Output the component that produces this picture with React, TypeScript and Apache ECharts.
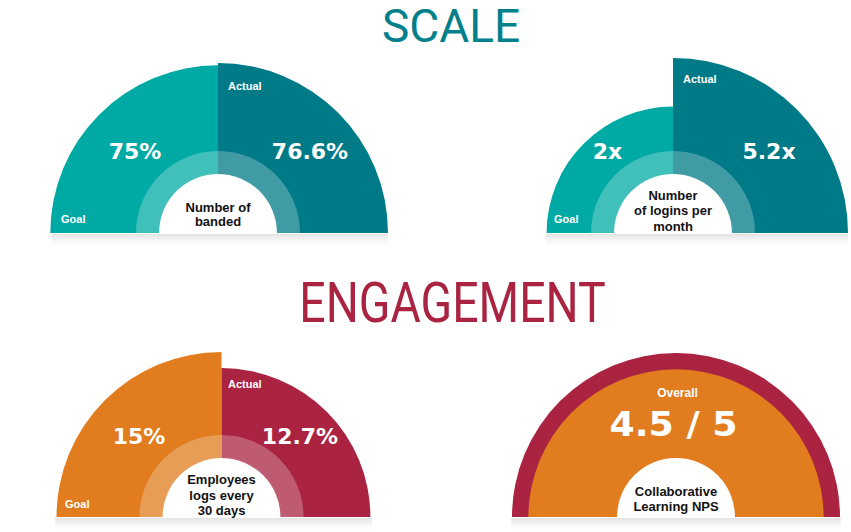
import React, { useEffect, useRef } from "react";
import * as echarts from "echarts";

// ---------- data ----------
const sectionTitles = ["SCALE", "ENGAGEMENT"];
const scaleMetrics = ["Number of\nbanded", "Number\nof logins per\nmonth"];
const scaleGoalValues = [75, 2];
const scaleActualValues = [76.6, 5.2];
const scaleGoalLabels = ["75%", "2x"];
const scaleActualLabels = ["76.6%", "5.2x"];
const engagementMetrics = ["Employees\nlogs every\n30 days"];
const engagementGoalValues = [15];
const engagementActualValues = [12.7];
const engagementGoalLabels = ["15%"];
const engagementActualLabels = ["12.7%"];
const npsMetric = ["Collaborative\nLearning NPS"];
const npsValues = [4.5];
const npsMax = [5];
const npsLabels = ["4.5 / 5"];
const npsCaption = ["Overall"];
const gaugeCategories = ["Goal", "Actual", "", ""];

// ---------- styles ----------
const TEAL_GOAL = "#00AAA4";
const TEAL_ACTUAL = "#007A87";
const TEAL_TITLE = "#00808B";
const ORANGE = "#E17C1F";
const CRIMSON = "#AA2442";
const SMALL_FONT = "'Liberation Sans', Arial, sans-serif";
const VALUE_FONT = "'DejaVu Sans', Verdana, sans-serif";
const TITLE_FONT = "Roboto, 'Liberation Sans', sans-serif";

type GaugeLayout = {
  cx: number; cy: number; r0: number; R: number;
  goalColor: string; actualColor: string;
  actualLabelPos: [number, number]; goalLabelPos: [number, number];
  goalValuePos: [number, number]; actualValuePos: [number, number];
  centerTextY: number; centerLineHeight: number; shadow: [number, number];
};

const HOLE_R = 59;
const RING_R = 82;

const hiddenAxis = {
  axisLine: { show: false }, axisTick: { show: false }, axisLabel: { show: false },
  splitLine: { show: false }, splitArea: { show: false },
};

function pieCommon(cx: number, cy: number) {
  return {
    type: "pie",
    center: [cx, cy],
    silent: true,
    label: { show: false },
    labelLine: { show: false },
    clockwise: true,
    animation: false,
  };
}

function gaugeSeries(L: GaugeLayout, idx: number, goal: number, actual: number) {
  const common = pieCommon(L.cx, L.cy);
  return [
    {
      ...common, z: 1, radius: [0, L.r0 + 0.5], startAngle: 180, endAngle: 90,
      itemStyle: { borderWidth: 0 },
      data: [{ value: goal, itemStyle: { color: L.goalColor } }],
    },
    {
      ...common, z: 1, radius: [0, L.r0 + 0.5], startAngle: 90, endAngle: 0,
      itemStyle: { borderWidth: 0 },
      data: [{ value: actual, itemStyle: { color: L.actualColor } }],
    },
    {
      type: "bar", coordinateSystem: "polar", polarIndex: idx, z: 2, silent: true,
      barCategoryGap: "0%",
      itemStyle: { borderWidth: 0 },
      data: [
        { value: goal, itemStyle: { color: L.goalColor } },
        { value: actual, itemStyle: { color: L.actualColor } },
        null,
        null,
      ],
    },
    {
      ...common, z: 3, radius: [HOLE_R, RING_R], startAngle: 180, endAngle: 0,
      itemStyle: { borderWidth: 0, color: "rgba(255,255,255,0.25)" },
      data: [{ value: 1 }],
    },
    {
      ...common, z: 4, radius: [0, HOLE_R], startAngle: 180, endAngle: 0,
      itemStyle: { borderWidth: 0, color: "#ffffff" },
      data: [{ value: 1 }],
    },
  ];
}

function text(x: number, y: number, t: string, o: any = {}) {
  return {
    type: "text",
    x, y,
    scaleX: o.scaleX ?? 1,
    z: 100,
    silent: true,
    style: {
      text: t,
      fill: o.fill ?? "#ffffff",
      fontSize: o.fontSize ?? 11,
      fontWeight: o.fontWeight ?? "bold",
      fontFamily: o.fontFamily ?? SMALL_FONT,
      textAlign: o.align ?? "center",
      textVerticalAlign: "middle",
      lineHeight: o.lineHeight,
    },
  };
}

function shadow(x1: number, x2: number, y: number) {
  return {
    type: "rect",
    z: 0,
    silent: true,
    shape: { x: x1, y, width: x2 - x1, height: 15 },
    style: {
      fill: new echarts.graphic.LinearGradient(0, 0, 0, 1, [
        { offset: 0, color: "#e2e2e2" },
        { offset: 1, color: "rgba(255,255,255,0)" },
      ]),
    },
  };
}

function gaugeTexts(L: GaugeLayout, metric: string, gLabel: string, aLabel: string) {
  return [
    text(L.actualLabelPos[0], L.actualLabelPos[1], gaugeCategories[1], { align: "left", fontSize: 11 }),
    text(L.goalLabelPos[0], L.goalLabelPos[1], gaugeCategories[0], { align: "left", fontSize: 11 }),
    text(L.goalValuePos[0], L.goalValuePos[1], gLabel, { fontSize: 22, fontFamily: VALUE_FONT }),
    text(L.actualValuePos[0], L.actualValuePos[1], aLabel, { fontSize: 22, fontFamily: VALUE_FONT }),
    text(L.cx, L.centerTextY, metric, { fill: "#111111", fontSize: 13, lineHeight: L.centerLineHeight }),
    shadow(L.shadow[0], L.shadow[1], L.cy + 1),
  ];
}

const layouts: GaugeLayout[] = [
  {
    cx: 218, cy: 233, r0: 60, R: 170, goalColor: TEAL_GOAL, actualColor: TEAL_ACTUAL,
    actualLabelPos: [228, 86], goalLabelPos: [61, 219],
    goalValuePos: [135, 151], actualValuePos: [310, 151], centerTextY: 214.5, centerLineHeight: 14.5,
    shadow: [52, 388],
  },
  {
    cx: 673, cy: 233, r0: 96, R: 175, goalColor: TEAL_GOAL, actualColor: TEAL_ACTUAL,
    actualLabelPos: [683, 79], goalLabelPos: [554, 219],
    goalValuePos: [607.5, 151], actualValuePos: [769, 151], centerTextY: 210.5, centerLineHeight: 15.5,
    shadow: [546, 848],
  },
  {
    cx: 221.5, cy: 517, r0: 60, R: 165, goalColor: ORANGE, actualColor: CRIMSON,
    actualLabelPos: [228, 384], goalLabelPos: [65, 504],
    goalValuePos: [139, 436.5], actualValuePos: [300, 436.5], centerTextY: 495, centerLineHeight: 15.5,
    shadow: [55, 372],
  },
];

const NPS_CENTER: [number, number] = [676, 517];

export default function App() {
  const ref = useRef<HTMLDivElement>(null);
  useEffect(() => {
    if (!ref.current) return;
    const chart = echarts.init(ref.current, undefined, { renderer: "svg" });

    const polar: any[] = layouts.map((L) => ({ center: [L.cx, L.cy], radius: [L.r0, L.R] }));
    polar.push({ center: NPS_CENTER, radius: [0, 164] });

    const angleAxis: any[] = layouts.map((_, i) => ({
      polarIndex: i, type: "category", data: gaugeCategories, startAngle: 180, clockwise: true,
      ...hiddenAxis,
    }));
    angleAxis.push({
      polarIndex: 3, type: "category", data: ["Overall", ""], startAngle: 180, clockwise: true,
      ...hiddenAxis,
    });

    const radiusAxis: any[] = layouts.map((_, i) => ({
      polarIndex: i, type: "value", min: 0, max: "dataMax", ...hiddenAxis,
    }));
    radiusAxis.push({ polarIndex: 3, type: "value", min: 0, max: npsMax[0], ...hiddenAxis });

    const series: any[] = [
      ...gaugeSeries(layouts[0], 0, scaleGoalValues[0], scaleActualValues[0]),
      ...gaugeSeries(layouts[1], 1, scaleGoalValues[1], scaleActualValues[1]),
      ...gaugeSeries(layouts[2], 2, engagementGoalValues[0], engagementActualValues[0]),
      {
        type: "bar", coordinateSystem: "polar", polarIndex: 3, z: 1, silent: true,
        barCategoryGap: "0%", barGap: "-100%",
        itemStyle: { color: CRIMSON, borderWidth: 0 },
        data: [npsMax[0], null],
      },
      {
        type: "bar", coordinateSystem: "polar", polarIndex: 3, z: 2, silent: true,
        barCategoryGap: "0%", barGap: "-100%",
        itemStyle: { color: ORANGE, borderWidth: 0 },
        data: [npsValues[0], null],
      },
      {
        ...pieCommon(NPS_CENTER[0], NPS_CENTER[1]),
        radius: [0, HOLE_R], startAngle: 180, endAngle: 0, z: 4,
        itemStyle: { borderWidth: 0, color: "#ffffff" },
        data: [{ value: 1 }],
      },
    ];

    const graphics: any[] = [
      text(451, 26, sectionTitles[0], {
        fill: TEAL_TITLE, fontSize: 46, fontWeight: "normal", fontFamily: TITLE_FONT, scaleX: 1.0,
      }),
      text(452.5, 302.5, sectionTitles[1], {
        fill: CRIMSON, fontSize: 56, fontWeight: "normal", fontFamily: TITLE_FONT, scaleX: 0.83,
      }),
      ...gaugeTexts(layouts[0], scaleMetrics[0], scaleGoalLabels[0], scaleActualLabels[0]),
      ...gaugeTexts(layouts[1], scaleMetrics[1], scaleGoalLabels[1], scaleActualLabels[1]),
      ...gaugeTexts(layouts[2], engagementMetrics[0], engagementGoalLabels[0], engagementActualLabels[0]),
      text(677.5, 392.5, npsCaption[0], { fontSize: 12 }),
      text(673.5, 424.5, npsLabels[0], { fontSize: 33, fontFamily: VALUE_FONT, scaleX: 1.1 }),
      text(676, 499, npsMetric[0], { fill: "#111111", fontSize: 13, lineHeight: 15.5 }),
      shadow(511, 841, 518),
    ];

    chart.setOption({
      animation: false,
      backgroundColor: "#ffffff",
      polar,
      angleAxis,
      radiusAxis,
      series,
      graphic: graphics,
    });
    return () => chart.dispose();
  }, []);
  return (
    <div
      ref={ref}
      style={{ position: "fixed", left: 0, top: 0, width: 851, height: 532, background: "#fff" }}
    />
  );
}
